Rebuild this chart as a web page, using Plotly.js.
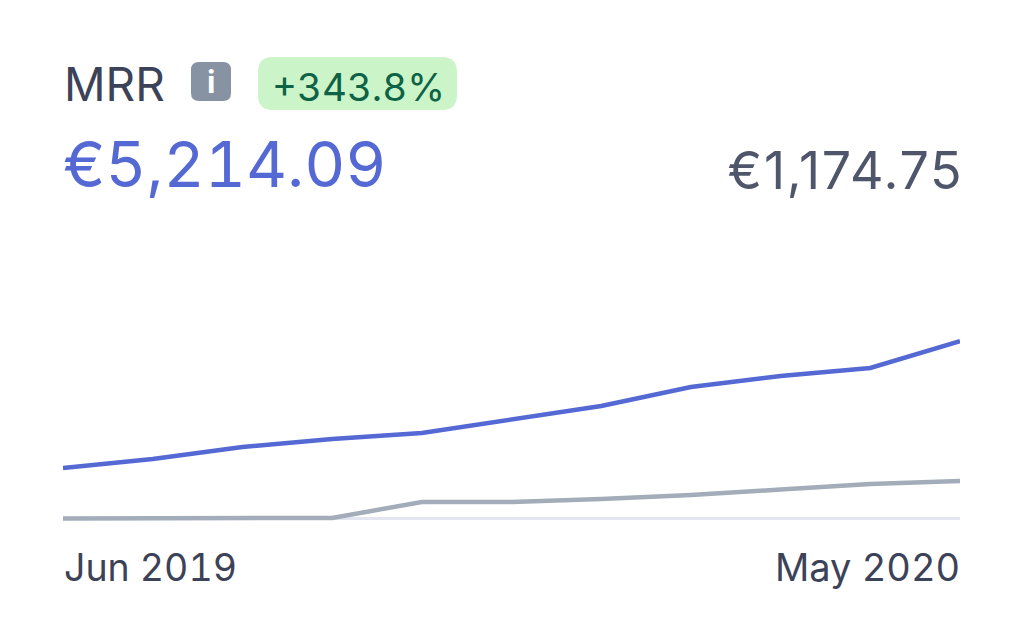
<!DOCTYPE html>
<html>
<head>
<meta charset="utf-8">
<script src="https://cdn.plot.ly/plotly-3.0.1.min.js"></script>
<style>html,body{margin:0;padding:0;background:#fff}#c{width:1024px;height:628px}
.annotation-text{font-variant-numeric:tabular-nums;font-feature-settings:'tnum' 1}
.annotation[data-index="4"] .annotation-text{font-variant-numeric:normal;font-feature-settings:normal;letter-spacing:1.7px}</style>
</head>
<body>
<div id="c"></div>
<script>
const periods = [0,1,2,3,4,5,6,7,8,9,10];
const currentValues = [1494,1758,2110,2344,2520,2930,3311,3868,4190,4424,5214];
const previousValues = [15,15,15,30,498,498,586,703,864,1025,1113];
const startLabel = 'Jun 2019';
const endLabel = 'May 2020';
const metricName = 'MRR';
const changeText = '+343.8%';
const currentText = '€5,214.09';
const previousText = '€1,174.75';

const W = 1024, H = 628;
const m = {l:63, r:64, t:300, b:103};
const px = x => (x - m.l) / (W - m.l - m.r);
const py = y => (H - m.b - y) / (H - m.t - m.b);
const font = 'Inter, "Noto Sans", sans-serif';

function rrect(x0, y0, x1, y1, r) {
  const X = px, Y = py;
  return `M${X(x0+r)},${Y(y0)} L${X(x1-r)},${Y(y0)} Q${X(x1)},${Y(y0)} ${X(x1)},${Y(y0+r)} ` +
         `L${X(x1)},${Y(y1-r)} Q${X(x1)},${Y(y1)} ${X(x1-r)},${Y(y1)} ` +
         `L${X(x0+r)},${Y(y1)} Q${X(x0)},${Y(y1)} ${X(x0)},${Y(y1-r)} ` +
         `L${X(x0)},${Y(y0+r)} Q${X(x0)},${Y(y0)} ${X(x0+r)},${Y(y0)} Z`;
}
function label(text, x, y, size, color, anchor) {
  return {text, x:px(x), y:py(y), xref:'paper', yref:'paper', xanchor:anchor, yanchor:'middle',
          showarrow:false, borderpad:0, font:{family:font, size, color}};
}

const traces = [
  {x:periods, y:previousValues, mode:'lines', line:{color:'#a3acb9', width:4.5}, hoverinfo:'skip', cliponaxis:true},
  {x:periods, y:currentValues, mode:'lines', line:{color:'#5469d4', width:4.5}, hoverinfo:'skip', cliponaxis:true}
];
const layout = {
  width:W, height:H, margin:m, showlegend:false,
  paper_bgcolor:'#ffffff', plot_bgcolor:'#ffffff',
  xaxis:{range:[0,10], showgrid:false, zeroline:false, showticklabels:false, ticks:'', showline:false, fixedrange:true},
  yaxis:{range:[-176,6417], showgrid:false, zeroline:true, zerolinecolor:'#e3e6f0', zerolinewidth:3,
         showticklabels:false, ticks:'', showline:false, fixedrange:true},
  shapes:[
    {type:'path', xref:'paper', yref:'paper', path:rrect(258,57,457,110,15), fillcolor:'#cbf4c9', line:{width:0}, layer:'below'},
    {type:'path', xref:'paper', yref:'paper', path:rrect(191,62,231,101,8), fillcolor:'#8792a2', line:{width:0}, layer:'below'}
  ],
  annotations:[
    label(metricName, 63, 84, 46, '#3c4257', 'left'),
    label('<b>i</b>', 211, 81, 31, '#ffffff', 'center'),
    label(changeText, 271, 87, 38.5, '#0e6245', 'left'),
    label(currentText, 62, 163, 63.5, '#5469d4', 'left'),
    label(previousText, 979, 170, 52, '#4f566b', 'right'),
    label(startLabel, 63, 567, 37.5, '#3c4257', 'left'),
    label(endLabel, 961, 567, 38, '#3c4257', 'right')
  ]
};
Plotly.newPlot('c', traces, layout, {displayModeBar:false, staticPlot:true});
</script>
</body>
</html>
